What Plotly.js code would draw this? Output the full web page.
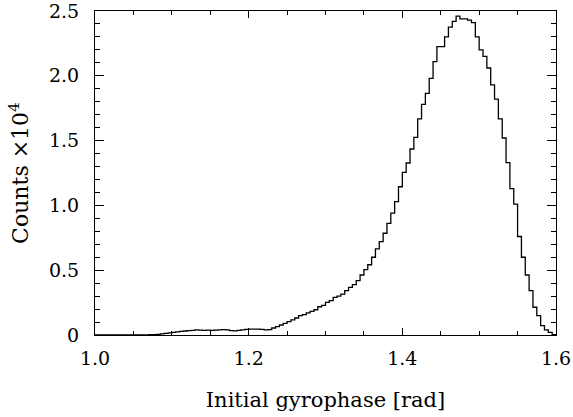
<!DOCTYPE html>
<html>
<head>
<meta charset="utf-8">
<script src="https://cdn.plot.ly/plotly-3.0.1.min.js"></script>
<style>html,body{margin:0;padding:0;background:#fff;}#chart{width:573px;height:417px;}</style>
</head>
<body>
<div id="chart"></div>
<script>
// Histogram definition: 120 bins of width 0.005 rad from 1.0 to 1.6
const binStart = 1.0;
const binWidth = 0.005;
// Counts per bin, in units of 10^4
const counts = [
  0, 0, 0, 0, 0, 0, 0, 0, 0, 0,
  0, 0, 0.001, 0.001, 0.002, 0.003, 0.005, 0.008, 0.012, 0.016,
  0.020, 0.024, 0.028, 0.031, 0.034, 0.036, 0.039, 0.038, 0.036, 0.037,
  0.036, 0.038, 0.040, 0.041, 0.039, 0.034, 0.032, 0.035, 0.040, 0.044,
  0.045, 0.046, 0.045, 0.044, 0.040, 0.042, 0.054, 0.064, 0.077, 0.090,
  0.103, 0.116, 0.131, 0.149, 0.157, 0.170, 0.183, 0.195, 0.218, 0.229,
  0.252, 0.265, 0.290, 0.300, 0.316, 0.342, 0.368, 0.388, 0.419, 0.463,
  0.504, 0.542, 0.600, 0.664, 0.720, 0.785, 0.862, 0.941, 1.029, 1.144,
  1.255, 1.327, 1.435, 1.525, 1.667, 1.780, 1.865, 1.980, 2.110, 2.225,
  2.225, 2.300, 2.375, 2.420, 2.460, 2.440, 2.440, 2.430, 2.410, 2.300,
  2.200, 2.150, 2.060, 1.930, 1.820, 1.667, 1.520, 1.330, 1.130, 1.010,
  0.760, 0.600, 0.463, 0.342, 0.214, 0.149, 0.072, 0.039, 0.020, 0.003
];
const xMajorStep = 0.2, xMinorStep = 0.05;
const yMajorStep = 0.5, yMinorStep = 0.1;
const yLabelAlias = {'0.0': '0'};
const xTitle = 'Initial gyrophase [rad]';
const yTitle = 'Counts \u00d710<sup>4</sup>';

// step outline: left edges with final right edge
const xs = [], ys = [];
for (let i = 0; i < counts.length; i++) {
  xs.push(binStart + i * binWidth);
  ys.push(counts[i]);
}
xs.push(binStart + counts.length * binWidth);
ys.push(counts[counts.length - 1]);

const FONT = 'DejaVu Serif, Liberation Serif, serif';

const trace = {
  type: 'scatter', mode: 'lines',
  x: xs, y: ys,
  line: {shape: 'hv', color: '#000', width: 1.3},
  hoverinfo: 'skip'
};

const layout = {
  width: 573, height: 417,
  margin: {l: 95, r: 17, t: 11, b: 82},
  paper_bgcolor: '#fff', plot_bgcolor: '#fff',
  font: {family: FONT, size: 19, color: '#000'},
  showlegend: false,
  xaxis: {
    range: [1.0, 1.6],
    tickmode: 'linear', tick0: 1.0, dtick: xMajorStep, tickformat: '.1f',
    ticks: 'inside', ticklen: 7, tickwidth: 1, tickcolor: '#000',
    minor: {tickmode: 'linear', tick0: 1.0, dtick: xMinorStep, ticks: 'inside', ticklen: 4, tickwidth: 1, tickcolor: '#000', showgrid: false},
    showline: true, linecolor: '#000', linewidth: 1, mirror: 'allticks',
    showgrid: false, zeroline: false,
    ticklabelstandoff: 6, ticklabeloverflow: 'allow',
    tickfont: {family: FONT, size: 19, color: '#000'},
    title: {text: xTitle, font: {family: FONT, size: 21, color: '#000'}, standoff: 24}
  },
  yaxis: {
    range: [0, 2.5],
    tickmode: 'linear', tick0: 0, dtick: yMajorStep, tickformat: '.1f',
    labelalias: yLabelAlias,
    ticks: 'inside', ticklen: 9, tickwidth: 1, tickcolor: '#000',
    minor: {tickmode: 'linear', tick0: 0, dtick: yMinorStep, ticks: 'inside', ticklen: 5, tickwidth: 1, tickcolor: '#000', showgrid: false},
    showline: true, linecolor: '#000', linewidth: 1, mirror: 'allticks',
    showgrid: false, zeroline: false,
    ticklabelstandoff: 11, ticklabeloverflow: 'allow',
    tickfont: {family: FONT, size: 19, color: '#000'},
    title: {text: yTitle, font: {family: FONT, size: 22, color: '#000'}, standoff: 14}
  }
};

Plotly.newPlot('chart', [trace], layout, {staticPlot: true, displayModeBar: false});
</script>
</body>
</html>
